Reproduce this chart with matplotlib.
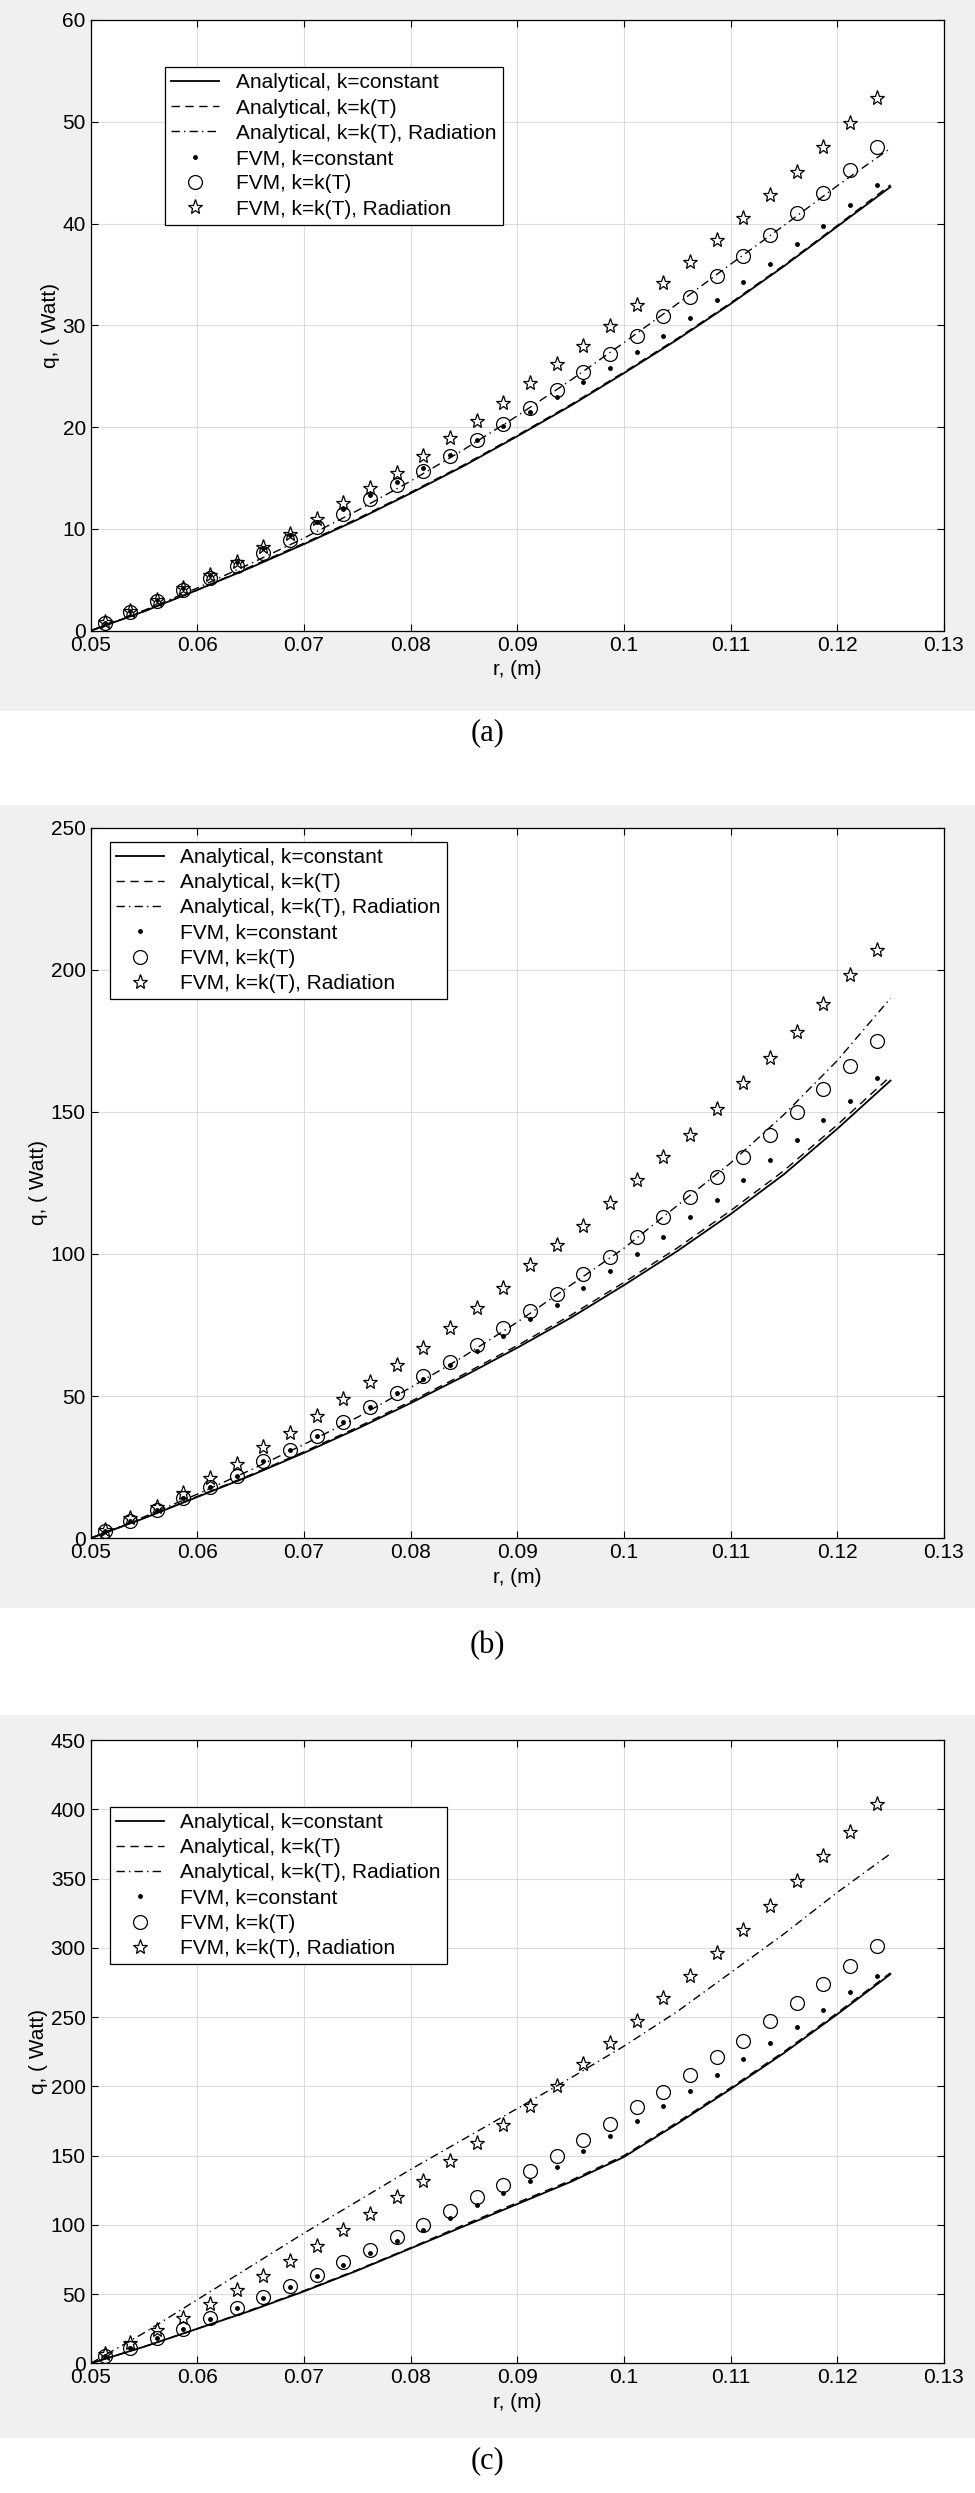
import matplotlib
matplotlib.use("Agg")
import matplotlib.pyplot as plt
from matplotlib.patches import Rectangle
import numpy as np

# ---- data ----
r_fvm = [0.0513, 0.0537, 0.0562, 0.0587, 0.0612, 0.0637, 0.0662, 0.0687, 0.0712, 0.0737,
         0.0762, 0.0787, 0.0812, 0.0837, 0.0862, 0.0887, 0.0912, 0.0937, 0.0962, 0.0987,
         0.1012, 0.1037, 0.1062, 0.1087, 0.1112, 0.1137, 0.1162, 0.1187, 0.1212, 0.1237]
r_an = [0.05, 0.055, 0.06, 0.065, 0.07, 0.075, 0.08, 0.085, 0.09, 0.095,
        0.10, 0.105, 0.11, 0.115, 0.12, 0.125]

# panel (a)
a_const = [0, 1.9, 4.0, 6.2, 8.5, 10.9, 13.5, 16.2, 19.1, 22.1, 25.3, 28.6, 32.1, 35.8, 39.7, 43.6]
a_kT = [0, 1.9, 4.0, 6.3, 8.6, 11.0, 13.6, 16.3, 19.2, 22.2, 25.4, 28.7, 32.2, 35.9, 39.8, 43.8]
a_rad = [0, 2.0, 4.2, 6.6, 9.1, 11.8, 14.7, 17.8, 21.1, 24.6, 28.3, 32.1, 36.0, 39.8, 43.7, 47.4]
a_dot = [0.8, 1.9, 3.0, 4.2, 5.5, 6.8, 8.1, 9.4, 10.7, 12.0, 13.3, 14.6, 16.0, 17.3, 18.7,
         20.1, 21.5, 23.0, 24.4, 25.8, 27.4, 29.0, 30.7, 32.5, 34.3, 36.0, 38.0, 39.8, 41.8, 43.8]
a_circ = [0.8, 1.8, 2.9, 4.0, 5.2, 6.4, 7.6, 8.9, 10.2, 11.5, 12.9, 14.3, 15.7, 17.2, 18.7,
          20.3, 21.9, 23.6, 25.4, 27.2, 29.0, 30.9, 32.8, 34.8, 36.8, 38.9, 41.0, 43.0, 45.3, 47.5]
a_star = [0.9, 1.9, 3.0, 4.2, 5.5, 6.8, 8.2, 9.5, 11.0, 12.5, 14.0, 15.5, 17.2, 18.9, 20.6,
          22.4, 24.3, 26.2, 28.0, 29.9, 32.0, 34.2, 36.2, 38.4, 40.5, 42.8, 45.1, 47.5, 49.9, 52.3]

# panel (b)
b_const = [0, 7, 14.5, 22, 30, 38.5, 47.5, 57, 67, 77.5, 89, 101, 114, 128, 144, 161]
b_kT = [0, 7.1, 14.7, 22.3, 30.4, 39, 48.1, 57.7, 67.8, 78.4, 90, 102.1, 115.2, 129.3, 145.4, 162.5]
b_rad = [0, 7.5, 15.5, 24, 33, 42.5, 53, 64, 76, 89, 102, 117, 132, 149, 168, 190]
b_dot = [2.5, 6, 10, 14, 18, 22, 27, 31, 36, 41, 46, 51, 56, 61, 66,
         71, 77, 82, 88, 94, 100, 106, 113, 119, 126, 133, 140, 147, 154, 162]
b_circ = [2.5, 6, 10, 14, 18, 22, 27, 31, 36, 41, 46, 51, 57, 62, 68,
          74, 80, 86, 93, 99, 106, 113, 120, 127, 134, 142, 150, 158, 166, 175]
b_star = [3, 7, 11, 16, 21, 26, 32, 37, 43, 49, 55, 61, 67, 74, 81,
          88, 96, 103, 110, 118, 126, 134, 142, 151, 160, 169, 178, 188, 198, 207]

# panel (c)
c_const = [0, 12, 25, 38, 52, 67, 83, 99, 115, 131, 149, 173, 198, 224, 252, 281]
c_kT = [0, 12, 25, 38.5, 52.5, 67.5, 83.5, 100, 116, 132, 150, 174, 199, 225, 253, 282]
c_rad = [0, 22, 46, 70, 94, 117, 140, 162, 184, 206, 229, 254, 282, 310, 340, 368]
c_dot = [5, 11, 18, 25, 32, 40, 47, 55, 63, 71, 80, 88, 96, 105, 114,
         123, 132, 142, 153, 164, 175, 186, 197, 208, 220, 231, 243, 255, 268, 280]
c_circ = [5, 11, 18, 25, 33, 40, 48, 56, 64, 73, 82, 91, 100, 110, 120,
          129, 139, 150, 161, 173, 185, 196, 208, 221, 233, 247, 260, 274, 287, 301]
c_star = [7, 15, 24, 33, 43, 53, 63, 74, 85, 96, 108, 120, 132, 146, 159,
          172, 186, 200, 216, 231, 247, 264, 280, 296, 313, 330, 348, 366, 384, 404]

panels = [
    ("(a)", a_const, a_kT, a_rad, a_dot, a_circ, a_star, 60, 10),
    ("(b)", b_const, b_kT, b_rad, b_dot, b_circ, b_star, 250, 50),
    ("(c)", c_const, c_kT, c_rad, c_dot, c_circ, c_star, 450, 50),
]
# axes rect, gray bg rect (y0, y1), caption y, legend anchor
layout = [
    ([0.093, 0.747, 0.875, 0.245], (0.715, 1.0), 0.706, (0.075, 0.94)),
    ([0.093, 0.383, 0.875, 0.285], (0.355, 0.677), 0.340, (0.01, 0.995)),
    ([0.093, 0.052, 0.875, 0.250], (0.022, 0.312), 0.013, (0.01, 0.91)),
]

plt.rcParams["font.family"] = "Liberation Sans"
fig = plt.figure(figsize=(9.75, 24.93), dpi=100)

for (cap, yc, yk, yr, yd, yo, ys, ymax, ystep), (rect, bg, capy, loc) in zip(panels, layout):
    fig.patches.append(Rectangle((0, bg[0]), 1.0, bg[1] - bg[0], transform=fig.transFigure,
                                 facecolor="#f0f0f0", edgecolor="none", zorder=-10))
    ax = fig.add_axes(rect)
    ax.set_zorder(5)
    ax.plot(r_an, yc, "k-", lw=1.3, label="Analytical, k=constant")
    ax.plot(r_an, yk, "k--", lw=1.0, dashes=(6, 4), label="Analytical, k=k(T)")
    ax.plot(r_an, yr, "k-.", lw=1.0, dashes=(6, 3, 1, 3), label="Analytical, k=k(T), Radiation")
    ax.plot(r_fvm, yd, "k.", ms=5, label="FVM, k=constant")
    ax.plot(r_fvm, yo, "o", mfc="none", mec="k", ms=10, mew=0.9, label="FVM, k=k(T)")
    ax.plot(r_fvm, ys, "*", mfc="none", mec="k", ms=11, mew=0.9, label="FVM, k=k(T), Radiation")
    ax.set_xlim(0.05, 0.13)
    ax.set_ylim(0, ymax)
    ax.set_xticks(np.arange(0.05, 0.131, 0.01))
    ax.set_xticklabels(["0.05", "0.06", "0.07", "0.08", "0.09", "0.1", "0.11", "0.12", "0.13"])
    ax.set_yticks(np.arange(0, ymax + 1, ystep))
    ax.grid(True, color="#dcdcdc", lw=0.8)
    ax.set_axisbelow(True)
    ax.tick_params(direction="in", top=True, right=True, labelsize=15, length=5)
    ax.set_xlabel("r, (m)", fontsize=15)
    ax.set_ylabel("q, ( Watt)", fontsize=15, labelpad=2)
    for s in ax.spines.values():
        s.set_linewidth(0.9)
    leg = ax.legend(loc="upper left", bbox_to_anchor=loc, fontsize=15, fancybox=False,
                    edgecolor="k", framealpha=1, handlelength=2.3, borderpad=0.3,
                    labelspacing=0.3)
    leg.get_frame().set_linewidth(0.9)
    fig.text(0.5, capy, cap, ha="center", va="center", fontsize=22, family="Liberation Serif")

fig.savefig("out.png", dpi=100)
